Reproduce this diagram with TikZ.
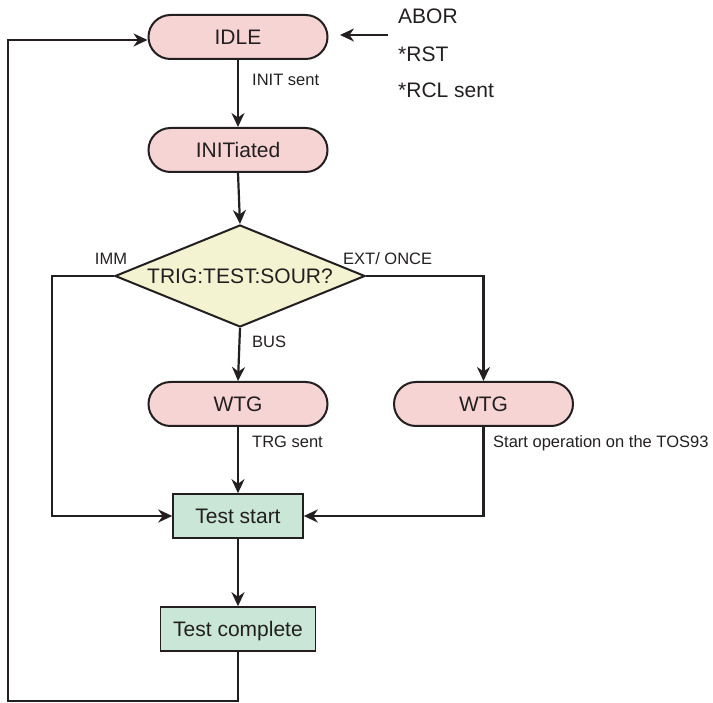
\documentclass[tikz,border=0pt]{standalone}
\usepackage{fontspec}
\setmainfont{Liberation Sans}
\usetikzlibrary{arrows.meta,shapes.geometric}
\definecolor{ink}{HTML}{231F20}
\definecolor{pinkfill}{HTML}{F6D4D4}
\definecolor{yelfill}{HTML}{F4F3D1}
\definecolor{grnfill}{HTML}{C9E6D6}
\begin{document}
\begin{tikzpicture}[x=1pt,y=-1pt,
  bigfont/.style={font=\fontsize{21}{25}\selectfont, text=ink},
  state/.style={bigfont, draw=ink, line width=2pt, fill=pinkfill, rounded corners=22pt,
    minimum width=179pt, minimum height=44pt, inner sep=0pt, text height=15pt, text depth=0pt},
  stepbox/.style={bigfont, draw=ink, line width=1.6pt, fill=grnfill,
    minimum height=44pt, inner sep=0pt, text height=15pt, text depth=0pt},
  decision/.style={bigfont, diamond, aspect=2.45, draw=ink, line width=2pt, fill=yelfill,
    minimum width=250pt, minimum height=102pt, inner sep=0pt, text height=15pt, text depth=0pt},
  lbl/.style={font=\fontsize{16.5}{20}\selectfont, text=ink, inner sep=0pt},
  biglbl/.style={bigfont, inner sep=0pt},
  conn/.style={draw=ink, line width=2.2pt, -{Stealth[length=14pt,width=13pt,inset=4.5pt]}},
  wire/.style={draw=ink, line width=2.2pt}
]
\useasboundingbox (0,0) rectangle (713,703);

% nodes
\node[state] (idle) at (238,37) {IDLE};
\node[state] (initd) at (238,150) {INITiated};
\node[decision] (dec) at (240,276) {TRIG:TEST:SOUR?};
\node[state] (wtga) at (238,404) {WTG};
\node[state] (wtgb) at (483.5,404) {WTG};
\node[stepbox, minimum width=130pt] (ts) at (238,516) {Test start};
\node[stepbox, minimum width=155pt] (tc) at (238,629) {Test complete};

% right-hand list
\node[biglbl, anchor=base west] (abor) at (398,23.5) {ABOR};
\node[biglbl, anchor=base west] (rst) at (398,61.5) {*RST};
\node[biglbl, anchor=base west] (rcl) at (398,97.5) {*RCL sent};
\coordinate (atail) at (388,35);
\coordinate (ahead) at (340,35);
\draw[conn] (atail) -- (ahead);

% labels
\node[lbl, anchor=base west] (linit) at (252,86) {INIT sent};
\node[lbl, anchor=base west] (lbus) at (252,348) {BUS};
\node[lbl, anchor=base west] (ltrg) at (252,448) {TRG sent};
\node[lbl, anchor=base west] (lstart) at (493,448) {Start operation on the TOS93};
\node[lbl, anchor=base] (limm) at (111,265) {IMM};
\node[lbl, anchor=base west] (lext) at (343,265) {EXT/ ONCE};

% connectors
\draw[conn] (idle.south) -- (initd.north);
\draw[conn] (initd.south) -- (dec.north);
\draw[conn] (dec.south) -- (wtga.north);
\draw[conn] (dec.west) -- ++(-62,0) |- (ts.west);
\draw[conn] (dec.east) -| (wtgb.north);
\draw[conn] (wtgb.south) |- (ts.east);
\draw[conn] (wtga.south) -- (ts.north);
\draw[conn] (ts.south) -- (tc.north);
\draw[conn] (tc.south) -- (tc.south |- 0,701) -| (8,40) -- ([yshift=-3pt]idle.west);
\end{tikzpicture}
\end{document}
